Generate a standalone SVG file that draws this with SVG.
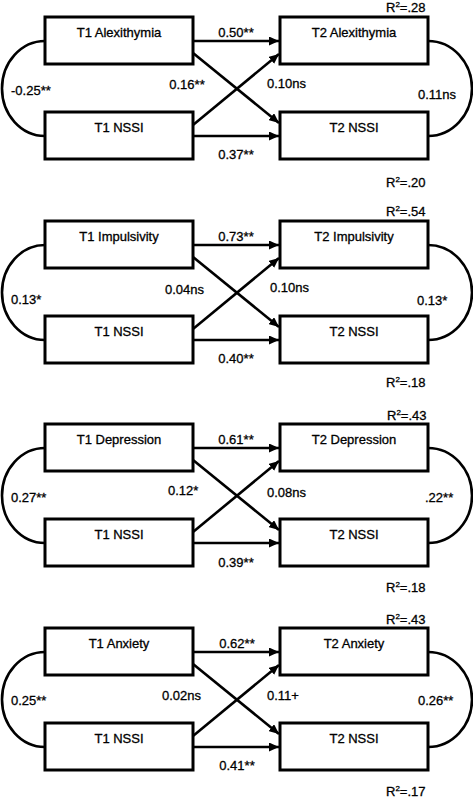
<svg xmlns="http://www.w3.org/2000/svg" width="473" height="798" viewBox="0 0 473 798">
<style>
.box{fill:#fff;stroke:#000;stroke-width:3}
.ln{fill:none;stroke:#000;stroke-width:2.6}
.arr{marker-end:url(#ah)}
text{font-family:"Liberation Sans",Arial,sans-serif;font-size:13px;fill:#000;stroke:#000;stroke-width:0.3}
.c{text-anchor:middle}
.sup{font-size:8px}
</style>
<defs>
<marker id="ah" markerUnits="userSpaceOnUse" markerWidth="11" markerHeight="9" refX="10" refY="4.5" orient="auto">
<path d="M0,0 L10,4.5 L0,9 z" fill="#000"/>
</marker>
</defs>
<rect width="473" height="798" fill="#fff"/>

<g id="connectors">
<!-- Panel 1 -->
<path class="ln" d="M45,41 A43,47.5 0 0 0 45,136"/>
<path class="ln" d="M428,41 A44,47.5 0 0 1 428,136"/>
<line class="ln arr" x1="193" y1="41" x2="279" y2="41"/>
<line class="ln arr" x1="193" y1="136" x2="279" y2="136"/>
<line class="ln arr" x1="193" y1="53" x2="279" y2="123"/>
<line class="ln arr" x1="193" y1="125" x2="279" y2="54"/>
<!-- Panel 2 -->
<path class="ln" d="M45,245 A43,47.5 0 0 0 45,340"/>
<path class="ln" d="M428,245 A44,47.5 0 0 1 428,340"/>
<line class="ln arr" x1="193" y1="245" x2="279" y2="245"/>
<line class="ln arr" x1="193" y1="340" x2="279" y2="340"/>
<line class="ln arr" x1="193" y1="257" x2="279" y2="327"/>
<line class="ln arr" x1="193" y1="329" x2="279" y2="258"/>
<!-- Panel 3 -->
<path class="ln" d="M45,448 A43,47.5 0 0 0 45,543"/>
<path class="ln" d="M428,448 A44,47.5 0 0 1 428,543"/>
<line class="ln arr" x1="193" y1="448" x2="279" y2="448"/>
<line class="ln arr" x1="193" y1="543" x2="279" y2="543"/>
<line class="ln arr" x1="193" y1="460" x2="279" y2="530"/>
<line class="ln arr" x1="193" y1="532" x2="279" y2="461"/>
<!-- Panel 4 -->
<path class="ln" d="M45,652 A43,47.5 0 0 0 45,747"/>
<path class="ln" d="M428,652 A44,47.5 0 0 1 428,747"/>
<line class="ln arr" x1="193" y1="652" x2="279" y2="652"/>
<line class="ln arr" x1="193" y1="747" x2="279" y2="747"/>
<line class="ln arr" x1="193" y1="664" x2="279" y2="734"/>
<line class="ln arr" x1="193" y1="736" x2="279" y2="665"/>
</g>

<g id="labels">
<!-- Panel 1 -->
<text x="236" y="37" class="c">0.50**</text>
<text x="187" y="89" class="c">0.16**</text>
<text x="11" y="95">-0.25**</text>
<text x="267" y="88">0.10ns</text>
<text x="418" y="99">0.11ns</text>
<text x="236" y="159" class="c">0.37**</text>
<text x="386" y="12">R<tspan class="sup" dy="-5">2</tspan><tspan dy="5">=.28</tspan></text>
<text x="386" y="187">R<tspan class="sup" dy="-5">2</tspan><tspan dy="5">=.20</tspan></text>
<!-- Panel 2 -->
<text x="236" y="241" class="c">0.73**</text>
<text x="165" y="294">0.04ns</text>
<text x="11" y="304">0.13*</text>
<text x="270" y="292">0.10ns</text>
<text x="417" y="305">0.13*</text>
<text x="236" y="363" class="c">0.40**</text>
<text x="386" y="216">R<tspan class="sup" dy="-5">2</tspan><tspan dy="5">=.54</tspan></text>
<text x="386" y="387">R<tspan class="sup" dy="-5">2</tspan><tspan dy="5">=.18</tspan></text>
<!-- Panel 3 -->
<text x="236" y="444" class="c">0.61**</text>
<text x="168" y="495">0.12*</text>
<text x="11" y="502">0.27**</text>
<text x="267" y="497">0.08ns</text>
<text x="425" y="502">.22**</text>
<text x="236" y="567" class="c">0.39**</text>
<text x="387" y="420">R<tspan class="sup" dy="-5">2</tspan><tspan dy="5">=.43</tspan></text>
<text x="386" y="592">R<tspan class="sup" dy="-5">2</tspan><tspan dy="5">=.18</tspan></text>
<!-- Panel 4 -->
<text x="237" y="648" class="c">0.62**</text>
<text x="162" y="700">0.02ns</text>
<text x="11" y="705">0.25**</text>
<text x="267" y="700">0.11+</text>
<text x="418" y="705">0.26**</text>
<text x="237" y="770" class="c">0.41**</text>
<text x="386" y="624">R<tspan class="sup" dy="-5">2</tspan><tspan dy="5">=.43</tspan></text>
<text x="386" y="796">R<tspan class="sup" dy="-5">2</tspan><tspan dy="5">=.17</tspan></text>
</g>

<g id="p1_t1_alex"><rect class="box" x="45" y="17" width="148" height="47"/><text x="119" y="37" class="c">T1 Alexithymia</text></g>
<g id="p1_t1_nssi"><rect class="box" x="45" y="112" width="148" height="47"/><text x="119" y="132" class="c">T1 NSSI</text></g>
<g id="p1_t2_alex"><rect class="box" x="280" y="17" width="148" height="47"/><text x="354" y="37" class="c">T2 Alexithymia</text></g>
<g id="p1_t2_nssi"><rect class="box" x="280" y="112" width="148" height="47"/><text x="354" y="132" class="c">T2 NSSI</text></g>

<g id="p2_t1_imp"><rect class="box" x="45" y="221" width="148" height="47"/><text x="119" y="241" class="c">T1 Impulsivity</text></g>
<g id="p2_t1_nssi"><rect class="box" x="45" y="316" width="148" height="47"/><text x="119" y="336" class="c">T1 NSSI</text></g>
<g id="p2_t2_imp"><rect class="box" x="280" y="221" width="148" height="47"/><text x="354" y="241" class="c">T2 Impulsivity</text></g>
<g id="p2_t2_nssi"><rect class="box" x="280" y="316" width="148" height="47"/><text x="354" y="336" class="c">T2 NSSI</text></g>

<g id="p3_t1_dep"><rect class="box" x="45" y="424" width="148" height="47"/><text x="119" y="444" class="c">T1 Depression</text></g>
<g id="p3_t1_nssi"><rect class="box" x="45" y="519" width="148" height="47"/><text x="119" y="539" class="c">T1 NSSI</text></g>
<g id="p3_t2_dep"><rect class="box" x="280" y="424" width="148" height="47"/><text x="354" y="444" class="c">T2 Depression</text></g>
<g id="p3_t2_nssi"><rect class="box" x="280" y="519" width="148" height="47"/><text x="354" y="539" class="c">T2 NSSI</text></g>

<g id="p4_t1_anx"><rect class="box" x="45" y="628" width="148" height="47"/><text x="119" y="648" class="c">T1 Anxiety</text></g>
<g id="p4_t1_nssi"><rect class="box" x="45" y="723" width="148" height="47"/><text x="119" y="743" class="c">T1 NSSI</text></g>
<g id="p4_t2_anx"><rect class="box" x="280" y="628" width="148" height="47"/><text x="354" y="648" class="c">T2 Anxiety</text></g>
<g id="p4_t2_nssi"><rect class="box" x="280" y="723" width="148" height="47"/><text x="354" y="743" class="c">T2 NSSI</text></g>
</svg>
